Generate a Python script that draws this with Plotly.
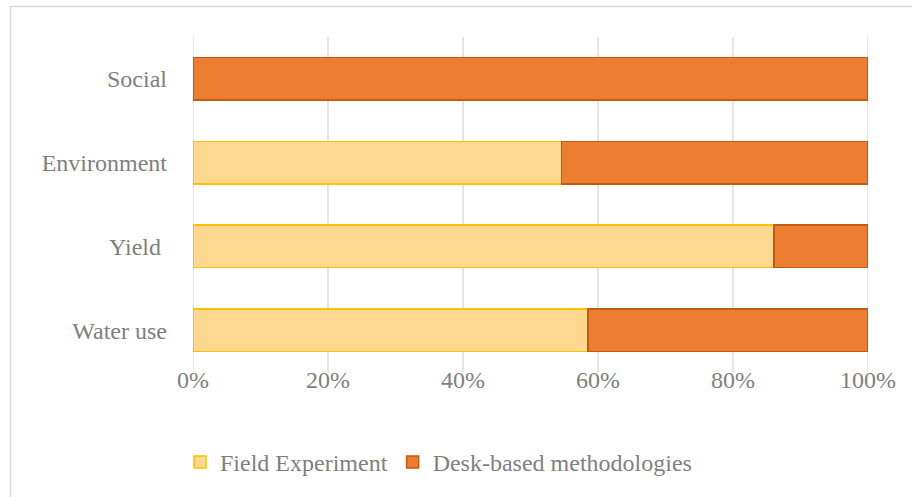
import plotly.graph_objects as go

categories = ["Water use", "Yield ", "Environment", "Social"]
field_experiment = [58.5, 86.1, 54.6, 0.0]
desk_based = [41.5, 13.9, 45.4, 100.0]
tick_vals = [0, 20, 40, 60, 80, 100]
tick_text = ["0%", "20%", "40%", "60%", "80%", "100%"]

L, R, T, B = 193, 44, 37, 134
W, H = 912, 497
pw, ph = W - L - R, H - T - B
grid_bottom_px = 372
cat_px = 83.75  # pixels per category

def px(x):
    return (x - L) / pw

def py(y):
    return (H - B - y) / ph

font = dict(family="Liberation Serif", size=24, color="#7f7f7f")

fig = go.Figure()
fig.add_trace(go.Bar(
    y=categories, x=field_experiment, orientation="h", name="Field Experiment",
    marker=dict(color="#fdd88e", line=dict(color="#ffc000", width=1.5)),
))
fig.add_trace(go.Bar(
    y=categories, x=desk_based, orientation="h", name="Desk-based methodologies",
    marker=dict(color="#ed7d31", line=dict(color="#c55a11", width=1.5)),
))

top = len(categories) - 0.5
span = ph / cat_px

shapes = [dict(type="line", xref="x", yref="paper", x0=v, x1=v,
               y0=py(grid_bottom_px), y1=1, line=dict(color="#dcdcdc", width=1.5),
               layer="below") for v in tick_vals]
shapes.append(dict(type="rect", xref="paper", yref="paper",
                   x0=px(10.5), x1=px(930), y0=py(520), y1=py(6.5),
                   line=dict(color="#d9d9d9", width=1.5), fillcolor="rgba(0,0,0,0)",
                   layer="below"))

fig.update_layout(
    width=W, height=H,
    margin=dict(l=L, r=R, t=T, b=B),
    barmode="stack", bargap=0.49,
    plot_bgcolor="rgba(0,0,0,0)", paper_bgcolor="white",
    font=font,
    showlegend=True,
    legend=dict(orientation="h", x=px(180), xanchor="left", y=py(485), yanchor="bottom",
                font=font, itemwidth=30, traceorder="normal", tracegroupgap=0),
    xaxis=dict(range=[0, 100], tickvals=tick_vals, ticktext=tick_text,
               showgrid=False, zeroline=False,
               showline=False, ticks="", ticklen=0, ticklabelstandoff=0, fixedrange=True),
    yaxis=dict(range=[top - span, top], showgrid=False, showline=False, ticks="", ticklen=0,
               ticklabelstandoff=25, fixedrange=True),
    shapes=shapes,
)

fig.write_html("out.html")
